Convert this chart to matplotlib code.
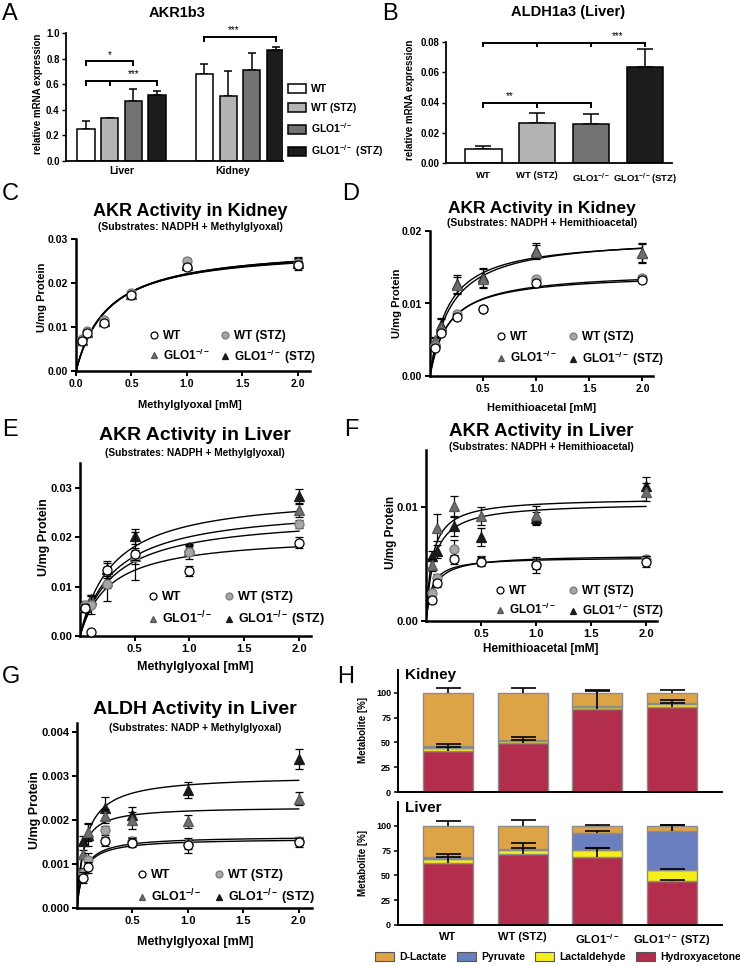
import numpy as np
import matplotlib
matplotlib.use('Agg')
import matplotlib.pyplot as plt
from matplotlib.patches import Patch
from matplotlib.lines import Line2D

plt.rcParams['font.family'] = ['Liberation Sans', 'DejaVu Sans']
plt.rcParams['font.weight'] = 'bold'
plt.rcParams['mathtext.fontset'] = 'custom'
plt.rcParams['mathtext.rm'] = 'Liberation Sans:bold'
plt.rcParams['mathtext.it'] = 'Liberation Sans:bold:italic'
plt.rcParams['mathtext.bf'] = 'Liberation Sans:bold'
plt.rcParams['mathtext.default'] = 'rm'

# ---------------- data ----------------
groups = ['WT', 'WT (STZ)', 'GLO1$^{-/-}$', 'GLO1$^{-/-}$ (STZ)']

# A: AKR1b3 mRNA (Liver, Kidney)
akr_tissues = ['Liver', 'Kidney']
akr_wt = [0.25, 0.68]
akr_wt_stz = [0.335, 0.51]
akr_glo = [0.465, 0.71]
akr_glo_stz = [0.515, 0.865]
akr_wt_err = [0.06, 0.075]
akr_wt_stz_err = [0.0, 0.19]
akr_glo_err = [0.10, 0.13]
akr_glo_stz_err = [0.03, 0.025]

# B: ALDH1a3 mRNA (Liver)
aldh_labels = ['WT', 'WT (STZ)', 'GLO1$^{-/-}$', 'GLO1$^{-/-}$(STZ)']
aldh_vals = [0.0095, 0.0265, 0.0255, 0.0635]
aldh_err = [0.002, 0.0068, 0.0068, 0.012]

# kinetics: substrate concentrations [mM]
conc = [0.05, 0.1, 0.25, 0.5, 1.0, 2.0]

# C: AKR kidney, methylglyoxal
c_wt = [0.0068, 0.0087, 0.0110, 0.0172, 0.0236, 0.0240]
c_wt_stz = [0.0072, 0.0090, 0.0115, 0.0178, 0.0251, 0.0246]
c_glo = [0.0070, 0.0088, 0.0113, 0.0176, 0.0246, 0.0248]
c_glo_stz = [0.0071, 0.0089, 0.0114, 0.0175, 0.0242, 0.0245]
c_err = [0.0003, 0.0003, 0.0004, 0.0004, 0.0005, 0.0010]
c_vmax = [0.0280, 0.0287, 0.0285, 0.0283]
c_km = [0.28, 0.30, 0.29, 0.29]

# D: AKR kidney, hemithioacetal
d_wt = [0.0039, 0.0059, 0.0082, 0.0093, 0.0128, 0.0133]
d_wt_stz = [0.0042, 0.0061, 0.0086, 0.0093, 0.0134, 0.0135]
d_glo = [0.0049, 0.0068, 0.0125, 0.0134, 0.0171, 0.0169]
d_glo_stz = [0.0047, 0.0070, 0.0127, 0.0136, 0.0173, 0.0170]
d_err_wt = [0.0002, 0.0003, 0.0004, 0.0004, 0.0003, 0.0004]
d_err_glo = [0.0005, 0.0010, 0.0012, 0.0013, 0.0010, 0.0013]
d_vmax = [0.0142, 0.0145, 0.0191, 0.0194]
d_km = [0.17, 0.18, 0.17, 0.20]

# E: AKR liver, methylglyoxal
e_wt = [0.0056, 0.0008, 0.0133, 0.0166, 0.0131, 0.0189]
e_wt_stz = [0.0062, 0.0062, 0.0105, 0.0160, 0.0169, 0.0226]
e_glo = [0.0060, 0.0072, 0.0112, 0.0162, 0.0175, 0.0255]
e_glo_stz = [0.0058, 0.0074, 0.0136, 0.0202, 0.0180, 0.0283]
e_err_wt = [0.0008, 0.0003, 0.0015, 0.0012, 0.0010, 0.0011]
e_err_wt_stz = [0.0008, 0.0018, 0.0035, 0.0015, 0.0013, 0.0008]
e_err_glo = [0.0009, 0.0010, 0.0015, 0.0048, 0.0010, 0.0015]
e_err_glo_stz = [0.0006, 0.0008, 0.0015, 0.0015, 0.0006, 0.0015]
e_vmax = [0.0205, 0.0245, 0.0265, 0.0290]
e_km = [0.27, 0.31, 0.32, 0.30]

# F: AKR liver, hemithioacetal
f_wt = [0.0018, 0.0033, 0.0054, 0.0052, 0.0049, 0.0052]
f_wt_stz = [0.0025, 0.0038, 0.0063, 0.0053, 0.0050, 0.0054]
f_glo = [0.0049, 0.0082, 0.0101, 0.0092, 0.0093, 0.0113]
f_glo_stz = [0.0057, 0.0061, 0.0083, 0.0074, 0.0090, 0.0118]
f_err_wt = [0.0002, 0.0003, 0.0004, 0.0004, 0.0007, 0.0005]
f_err_wt_stz = [0.0002, 0.0003, 0.0008, 0.0004, 0.0004, 0.0003]
f_err_glo = [0.0005, 0.0012, 0.0009, 0.0008, 0.0008, 0.0008]
f_err_glo_stz = [0.0004, 0.0006, 0.0008, 0.0008, 0.0006, 0.0008]
f_vmax = [0.0056, 0.0058, 0.0108, 0.0104]
f_km = [0.05, 0.07, 0.056, 0.07]

# G: ALDH liver, methylglyoxal
g_wt = [0.00069, 0.00092, 0.00151, 0.00148, 0.00142, 0.00149]
g_wt_stz = [0.00080, 0.00110, 0.00176, 0.00152, 0.00145, 0.00152]
g_glo = [0.00122, 0.00172, 0.00209, 0.00199, 0.00197, 0.00248]
g_glo_stz = [0.00153, 0.00165, 0.00228, 0.00211, 0.00268, 0.00338]
g_err_wt = [0.00012, 0.00012, 0.00010, 0.00010, 0.00018, 0.00010]
g_err_wt_stz = [0.00010, 0.00015, 0.00010, 0.00010, 0.00010, 0.00010]
g_err_glo = [0.00010, 0.00020, 0.00015, 0.00020, 0.00015, 0.00015]
g_err_glo_stz = [0.00010, 0.00025, 0.00025, 0.00018, 0.00018, 0.00022]
g_vmax = [0.00158, 0.00163, 0.00230, 0.00301]
g_km = [0.06, 0.06, 0.045, 0.077]

# H: metabolites [%]
metab_names = ['D-Lactate', 'Pyruvate', 'Lactaldehyde', 'Hydroxyacetone']
kid_hydroxy = [41.7, 49.5, 84.0, 85.8]
kid_lactald = [2.8, 1.5, 1.5, 2.7]
kid_pyruvate = [1.5, 1.0, 1.5, 0.8]
kid_dlactate = [54.0, 48.0, 13.0, 10.7]
kid_hydroxy_err = [4.0, 2.7, 17.4, 3.5]
kid_lactald_err = [0, 0, 0, 0]
kid_pyruvate_err = [2.5, 3.0, 0, 3.2]
kid_dlactate_err = [4.5, 5.0, 2.7, 2.4]

liv_hydroxy = [62.6, 71.7, 68.4, 44.8]
liv_lactald = [4.4, 4.3, 7.0, 10.8]
liv_pyruvate = [1.3, 1.0, 17.2, 39.4]
liv_dlactate = [31.7, 23.0, 7.4, 5.0]
liv_hydroxy_err = [5.5, 5.8, 9.4, 0.8]
liv_lactald_err = [0, 0, 2.4, 0.8]
liv_pyruvate_err = [2.9, 6.0, 2.0, 5.5]
liv_dlactate_err = [4.5, 6.2, 0.8, 1.2]

# ---------------- styles ----------------
bar_colors = ['white', '#b3b3b3', '#737373', '#1c1c1c']
mk = ['o', 'o', '^', '^']
mfc = ['white', '#a6a6a6', '#6e6e6e', '#1a1a1a']
mec = ['black', '#7a7a7a', '#555555', '#1a1a1a']
metab_colors = ['#dda347', '#6a7fbf', '#f5ee1c', '#b22e4c']

W, H = 740, 966
fig = plt.figure(figsize=(W / 100, H / 100), dpi=100)


def rect(l, t, r, b):
    return [l / W, 1 - b / H, (r - l) / W, (b - t) / H]


def ftext(x, y, s, **kw):
    fig.text(x / W, 1 - y / H, s, **kw)


def style(ax, lw=1.6):
    for s in ['top', 'right']:
        ax.spines[s].set_visible(False)
    for s in ['left', 'bottom']:
        ax.spines[s].set_linewidth(lw)
    ax.tick_params(width=lw * 0.8, length=3.5)


# panel letters
for letter, x, y in [('A', 2, 3), ('B', 382, 3), ('C', 2, 183), ('D', 342, 183),
                     ('E', 2, 419), ('F', 344, 419), ('G', 2, 666), ('H', 337, 666)]:
    ftext(x, y, letter, fontsize=17, fontweight='normal', va='top', ha='left')

# ---------------- A ----------------
axA = fig.add_axes(rect(66, 33, 283, 161))
style(axA, 1.3)
xg = np.arange(len(akr_tissues))
offs = [-0.3, -0.1, 0.1, 0.3]
akr_series = [akr_wt, akr_wt_stz, akr_glo, akr_glo_stz]
akr_errs = [akr_wt_err, akr_wt_stz_err, akr_glo_err, akr_glo_stz_err]
for i in range(4):
    axA.bar(xg + offs[i], akr_series[i], 0.145, color=bar_colors[i], edgecolor='black',
            linewidth=1.1, zorder=2)
    axA.errorbar(xg + offs[i], akr_series[i], yerr=[np.zeros(2), akr_errs[i]], fmt='none',
                 ecolor='black', elinewidth=1.1, capsize=3, capthick=1.1, zorder=1)
axA.set_xlim(-0.468, 1.363)
axA.set_ylim(0, 1.0)
axA.set_yticks(np.arange(0, 1.01, 0.2))
axA.set_yticklabels(['%.1f' % v for v in np.arange(0, 1.01, 0.2)], fontsize=7)
axA.tick_params(axis='y', length=3, pad=1.5)
axA.set_xticks([0, 0.94])
axA.set_xticklabels(akr_tissues, fontsize=7.5)
axA.tick_params(axis='x', length=0)
# significance brackets
for (xs, y, star, sx) in [([-0.3, 0.1], 0.78, '*', -0.1),
                          ([-0.3, -0.1, 0.3], 0.627, '***', 0.1),
                          ([0.7, 1.3], 0.97, '***', 0.95)]:
    axA.plot([xs[0], xs[-1]], [y, y], color='black', lw=1.4, clip_on=False)
    for xt in xs:
        axA.plot([xt, xt], [y, y - 0.03], color='black', lw=1.4, clip_on=False)
    axA.text(sx, y + 0.012, star, ha='center', va='bottom', fontsize=7, fontweight='normal')
ftext(38, 94, 'relative mRNA expression', rotation=90, ha='center', va='center', fontsize=7)
ftext(177, 13, 'AKR1b3', ha='center', va='center', fontsize=10.5)
fig.legend(handles=[Patch(facecolor=c, edgecolor='black', linewidth=1.1) for c in bar_colors],
           labels=groups, loc='upper left', bbox_to_anchor=(288 / W, 1 - 84 / H),
           frameon=False, fontsize=7.5, handlelength=1.7, handleheight=1.0,
           labelspacing=0.8, handletextpad=0.5, borderaxespad=0, borderpad=0)

# ---------------- B ----------------
axB = fig.add_axes(rect(446, 42, 672, 163))
style(axB, 1.3)
xb = np.arange(len(aldh_vals))
axB.bar(xb, aldh_vals, 0.68, color=bar_colors, edgecolor='black', linewidth=1.1, zorder=2)
axB.errorbar(xb, aldh_vals, yerr=[np.zeros(4), aldh_err], fmt='none', ecolor='black',
             elinewidth=1.1, capsize=6, capthick=1.1, zorder=1)
axB.set_xlim(-0.69, 3.5)
axB.set_ylim(0, 0.08)
axB.set_yticks(np.arange(0, 0.081, 0.02))
axB.set_yticklabels(['%.2f' % v for v in np.arange(0, 0.081, 0.02)], fontsize=7)
axB.tick_params(axis='y', length=3, pad=1.5)
axB.set_xticks(xb)
axB.set_xticklabels(aldh_labels, fontsize=6.8)
axB.tick_params(axis='x', length=0, pad=6)
for (xs, y, star, sx) in [([0, 1, 2, 3], 0.0795, '***', 2.5), ([0, 1, 2], 0.0395, '**', 0.5)]:
    axB.plot([xs[0], xs[-1]], [y, y], color='black', lw=1.4, clip_on=False)
    for xt in xs:
        axB.plot([xt, xt], [y, y - 0.0022], color='black', lw=1.4, clip_on=False)
    axB.text(sx, y + 0.0012, star, ha='center', va='bottom', fontsize=7, fontweight='normal')
ftext(410, 100, 'relative mRNA expression', rotation=90, ha='center', va='center', fontsize=7)
ftext(568, 12, 'ALDH1a3 (Liver)', ha='center', va='center', fontsize=10.5)


# ---------------- kinetic panels ----------------
def kinetic(box, series, errs, vmax, km, ylim, yticks, yfmt, xticks, xlim,
            title, sub, title_xy, sub_y, ylab_xy, xlab, xlab_y, key_xy, key_fs,
            colsp, labsp, title_fs=13, sub_fs=7.5, lab_fs=8.5, xlab_fs=8.5, tick_fs=8):
    ax = fig.add_axes(rect(*box))
    style(ax, 1.8)
    xx = np.linspace(0, conc[-1], 400)
    for v, k in zip(vmax, km):
        ax.plot(xx, v * xx / (k + xx), color='black', lw=1.0, zorder=2)
    for i in [3, 2, 1, 0]:
        ax.errorbar(conc, series[i], yerr=errs[i], fmt=mk[i], ms=6.5, mfc=mfc[i], mec=mec[i],
                    mew=0.9, ecolor='black', elinewidth=0.9, capsize=3, capthick=0.9,
                    zorder=3 + (3 - i), clip_on=False)
    ax.set_xlim(*xlim)
    ax.set_ylim(*ylim)
    ax.set_yticks(yticks)
    ax.set_yticklabels([yfmt % v for v in yticks], fontsize=tick_fs)
    ax.set_xticks(xticks)
    ax.set_xticklabels(['%.1f' % v for v in xticks], fontsize=tick_fs)
    ax.tick_params(pad=2)
    ftext(title_xy[0], title_xy[1], title, ha='center', va='center', fontsize=title_fs)
    ftext(title_xy[0], sub_y, sub, ha='center', va='center', fontsize=sub_fs)
    ftext(ylab_xy[0], ylab_xy[1], 'U/mg Protein', rotation=90, ha='center', va='center',
          fontsize=lab_fs)
    ftext(title_xy[0], xlab_y, xlab, ha='center', va='center', fontsize=xlab_fs)
    handles = [Line2D([], [], marker=mk[i], ms=5, mfc=mfc[i], mec=mec[i], mew=0.9,
                      linestyle='none') for i in [0, 2, 1, 3]]
    ax.legend(handles, [groups[i] for i in [0, 2, 1, 3]], ncol=2, loc='upper left',
              bbox_to_anchor=(key_xy[0] / W, 1 - key_xy[1] / H), bbox_transform=fig.transFigure,
              frameon=False, fontsize=key_fs, handlelength=0.8, handletextpad=0.35,
              columnspacing=colsp, labelspacing=labsp, borderpad=0, borderaxespad=0)
    return ax


kinetic((76, 239, 310, 371), [c_wt, c_wt_stz, c_glo, c_glo_stz], [c_err] * 4, c_vmax, c_km,
        (0, 0.03), [0, 0.01, 0.02, 0.03], '%.2f', [0, 0.5, 1.0, 1.5, 2.0], (0, 2.11),
        'AKR Activity in Kidney', '(Substrates: NADPH + Methylglyoxal)', (190, 211), 227,
        (42, 297), 'Methylglyoxal [mM]', 405, (149, 330), 8.5, 0.9, 0.45,
        title_fs=13, sub_fs=7.5, lab_fs=8, xlab_fs=8, tick_fs=7.5)

kinetic((430, 231, 653, 376), [d_wt, d_wt_stz, d_glo, d_glo_stz],
        [d_err_wt, d_err_wt, d_err_glo, d_err_glo], d_vmax, d_km,
        (0, 0.02), [0, 0.01, 0.02], '%.2f', [0.5, 1.0, 1.5, 2.0], (0, 2.1),
        'AKR Activity in Kidney', '(Substrates: NADPH + Hemithioacetal)', (542, 208), 223,
        (397, 303), 'Hemithioacetal [mM]', 408, (496, 331), 8.5, 1.0, 0.6,
        title_fs=12.5, sub_fs=7.5, lab_fs=8, xlab_fs=8, tick_fs=7.5)

kinetic((80, 463, 311, 636), [e_wt, e_wt_stz, e_glo, e_glo_stz],
        [e_err_wt, e_err_wt_stz, e_err_glo, e_err_glo_stz], e_vmax, e_km,
        (0, 0.035), [0, 0.01, 0.02, 0.03], '%.2f', [0.5, 1.0, 1.5, 2.0], (0, 2.11),
        'AKR Activity in Liver', '(Substrates: NADPH + Methylglyoxal)', (195, 436), 453,
        (44, 537), 'Methylglyoxal [mM]', 667, (148, 591), 9, 0.9, 0.55,
        title_fs=14, sub_fs=7.3, lab_fs=9, xlab_fs=9)

kinetic((426, 450, 657, 621), [f_wt, f_wt_stz, f_glo, f_glo_stz],
        [f_err_wt, f_err_wt_stz, f_err_glo, f_err_glo_stz], f_vmax, f_km,
        (0, 0.015), [0, 0.01], '%.2f', [0.5, 1.0, 1.5, 2.0], (0, 2.1),
        'AKR Activity in Liver', '(Substrates: NADPH + Hemithioacetal)', (541, 431), 447,
        (391, 532), 'Hemithioacetal [mM]', 649, (495, 585), 8.5, 1.1, 0.4,
        title_fs=13.5, sub_fs=7.3, lab_fs=8.5, xlab_fs=8.5)

kinetic((77, 723, 312, 908), [g_wt, g_wt_stz, g_glo, g_glo_stz],
        [g_err_wt, g_err_wt_stz, g_err_glo, g_err_glo_stz], g_vmax, g_km,
        (0, 0.0042), [0, 0.001, 0.002, 0.003, 0.004], '%.3f', [0.5, 1.0, 1.5, 2.0], (0, 2.12),
        'ALDH Activity in Liver', '(Substrates: NADP + Methylglyoxal)', (195, 710), 728,
        (35, 810), 'Methylglyoxal [mM]', 942, (137, 869), 9, 1.0, 0.55,
        title_fs=14, sub_fs=7.3, lab_fs=9, xlab_fs=9)


# ---------------- H ----------------
def stacked(box, segs, errs, ylim, name, name_y, xlabels):
    ax = fig.add_axes(rect(*box))
    style(ax, 1.4)
    xh = np.arange(4)
    bottom = np.zeros(4)
    # stack order bottom -> top: Hydroxyacetone, Lactaldehyde, Pyruvate, D-Lactate
    order = [3, 2, 1, 0]
    tops = []
    for seg, ci in zip(segs, order):
        ax.bar(xh, seg, 0.67, bottom=bottom, color=metab_colors[ci], edgecolor='#8c8c8c',
               linewidth=1.0, zorder=2)
        bottom = bottom + np.array(seg)
        tops.append(bottom.copy())
    for top, e in zip(tops, errs):
        e = np.array(e, dtype=float)
        m = e > 0
        ax.vlines(xh[m], top[m], top[m] + e[m], color='black', lw=1.2, zorder=4)
        ax.plot(xh[m], top[m] + e[m], linestyle='none', marker='_', ms=18, mew=1.2,
                color='black', zorder=4)
    ax.set_xlim(-0.67, 3.67)
    ax.set_ylim(*ylim)
    ax.set_yticks([0, 25, 50, 75, 100])
    ax.set_yticklabels(['0', '25', '50', '75', '100'], fontsize=6.5)
    ax.tick_params(axis='y', length=3, pad=2)
    ax.set_xticks(xh)
    if xlabels:
        ax.set_xticklabels(groups, fontsize=8)
    else:
        ax.set_xticklabels([])
    ax.tick_params(axis='x', length=0, pad=5)
    ftext(405, name_y, name, ha='left', va='center', fontsize=11)
    return ax


stacked((398, 670, 722, 792), [kid_hydroxy, kid_lactald, kid_pyruvate, kid_dlactate],
        [kid_hydroxy_err, kid_lactald_err, kid_pyruvate_err, kid_dlactate_err],
        (0, 123), 'Kidney', 675, False)
stacked((398, 802, 722, 925), [liv_hydroxy, liv_lactald, liv_pyruvate, liv_dlactate],
        [liv_hydroxy_err, liv_lactald_err, liv_pyruvate_err, liv_dlactate_err],
        (0, 124), 'Liver', 808, True)
ftext(363, 730, 'Metabolite [%]', rotation=90, ha='center', va='center', fontsize=7)
ftext(363, 863, 'Metabolite [%]', rotation=90, ha='center', va='center', fontsize=7)
fig.legend(handles=[Patch(facecolor=c, edgecolor='#555555', linewidth=0.8) for c in metab_colors],
           labels=metab_names, loc='center', bbox_to_anchor=(558 / W, 1 - 957 / H), ncol=4,
           frameon=False, fontsize=7.5, handlelength=1.8, handleheight=0.9,
           columnspacing=1.0, handletextpad=0.5, borderaxespad=0, borderpad=0)

fig.savefig('out.png', dpi=100)
